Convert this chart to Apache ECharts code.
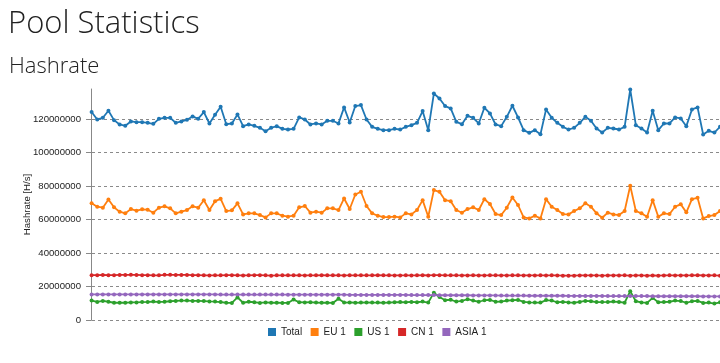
<!DOCTYPE html>
<html><head><meta charset="utf-8">
<script src="https://cdn.jsdelivr.net/npm/echarts@6/dist/echarts.min.js"></script>
<style>html,body{margin:0;padding:0;background:#fff}#c{width:720px;height:363px}</style>
</head><body><div id="c"></div>
<script>
// values in millions of H/s
const seriesNames = ['Total', 'EU 1', 'US 1', 'CN 1', 'ASIA 1'];
const seriesColors = ['#1f77b4', '#ff7f0e', '#2ca02c', '#d62728', '#9467bd'];
const yTicks = [0, 20000000, 40000000, 60000000, 80000000, 100000000, 120000000];
const yMax = 138000000;

const total = [124.3,119.8,120.8,125.0,119.4,116.8,116.0,118.6,118.2,118.2,117.8,117.2,120.2,120.8,120.8,117.8,118.6,119.6,121.6,120.2,124.2,117.4,122.6,127.4,117.0,117.4,122.8,115.8,
116.8,116.0,114.8,112.8,114.8,115.8,114.2,113.8,114.2,121.0,119.8,116.8,117.4,116.8,119.0,119.0,117.4,127.0,118.0,127.8,128.4,119.8,115.4,114.2,113.4,113.4,114.2,113.8,115.4,
116.4,117.8,124.8,113.4,135.3,132.3,127.8,126.4,118.4,117.0,122.0,120.8,117.4,126.8,123.4,116.8,115.8,121.4,128.0,121.0,113.4,111.8,113.4,111.0,125.8,120.8,117.8,115.4,
113.8,114.8,117.8,121.4,119.0,114.4,112.0,114.8,114.4,113.8,115.4,137.7,116.4,114.4,112.0,125.0,113.4,117.4,117.4,121.0,120.4,115.8,125.8,127.0,110.8,113.0,112.0,115.4];

const eu1 = [69.7,67.7,67.1,72.0,67.3,64.7,63.7,66.3,65.3,66.1,65.9,64.1,67.1,67.9,66.7,63.7,64.7,65.7,67.9,67.1,71.5,65.7,71.0,72.4,65.1,65.5,69.7,63.1,
63.7,63.7,62.7,61.3,63.7,63.7,62.3,61.7,62.3,67.3,68.1,64.1,64.7,64.1,66.7,66.7,65.7,72.6,66.3,75.0,76.6,68.1,63.7,62.3,61.5,61.5,61.7,61.3,63.7,
63.1,65.7,71.6,61.7,77.6,76.6,71.6,71.0,65.7,64.1,66.3,67.3,65.7,72.2,69.3,63.3,62.7,67.1,73.2,68.7,61.3,60.7,62.3,60.7,72.2,67.7,65.7,63.3,
63.1,65.1,66.7,69.7,67.7,63.7,61.1,64.1,63.1,62.7,65.1,80.2,65.1,63.7,61.7,71.6,61.7,63.7,63.3,67.7,69.1,64.3,72.2,73.0,60.7,62.1,62.7,65.1];

const us1 = [11.6,10.8,11.4,10.9,10.3,10.3,10.3,10.5,10.5,10.7,10.8,11.0,10.8,10.9,11.2,11.4,11.6,11.6,11.4,11.4,11.3,11.1,11.0,10.7,10.3,10.2,13.5,10.3,
10.9,10.6,10.2,10.5,10.3,10.3,10.2,10.2,12.2,10.6,10.5,10.6,10.4,10.3,10.3,10.2,12.7,10.4,10.5,10.3,10.4,10.5,10.4,10.4,10.3,10.4,10.6,10.7,10.6,
10.8,10.6,11.0,10.4,16.3,13.7,11.8,12.1,11.0,11.4,12.4,11.6,10.9,11.8,12.0,10.9,11.0,11.6,11.8,12.0,10.8,10.5,10.4,10.4,11.9,11.6,10.6,10.8,
10.5,10.3,10.8,11.4,11.2,10.7,10.7,10.8,11.0,10.8,10.3,17.2,11.2,10.5,10.2,13.2,10.6,10.7,10.9,11.6,11.3,10.3,11.2,11.4,10.2,10.4,9.8,10.6];

const cn1 = [26.8,26.8,26.9,26.8,26.8,26.9,26.9,27.0,26.9,26.8,26.8,26.7,26.7,27.0,27.0,26.9,26.9,26.9,26.8,26.8,26.7,26.6,26.7,26.7,26.8,26.8,26.7,26.6,
26.7,26.8,26.8,26.7,26.5,26.7,26.7,26.7,26.7,26.7,26.6,26.7,26.7,26.8,26.7,26.7,26.7,26.6,26.7,26.7,26.7,26.7,26.7,26.8,26.7,26.7,26.6,26.6,26.7,
26.6,26.7,26.8,26.6,26.8,26.8,26.7,26.7,26.7,26.6,26.6,26.7,26.6,26.6,26.7,26.7,26.6,26.6,26.7,26.7,26.6,26.6,26.6,26.7,26.6,26.7,26.6,26.5,
26.5,26.5,26.6,26.6,26.6,26.6,26.5,26.6,26.6,26.6,26.7,26.5,26.6,26.6,26.5,26.6,26.5,26.6,26.7,26.6,26.6,26.6,26.7,26.8,26.6,26.6,26.7,26.5];

const asia1 = [15.3,15.3,15.3,15.3,15.3,15.3,15.3,15.3,15.3,15.3,15.3,15.3,15.3,15.3,15.3,15.3,15.3,15.3,15.3,15.3,15.3,15.3,15.3,15.2,15.2,15.2,15.2,15.2,
15.2,15.2,15.2,15.2,15.2,15.2,15.2,15.1,15.1,15.1,15.1,15.1,15.1,15.1,15.1,15.1,15.1,15.1,15.0,15.0,15.0,15.0,15.0,15.0,15.0,15.0,15.0,15.0,15.0,
14.9,14.9,14.9,14.9,14.9,14.8,14.8,14.8,14.8,14.8,14.8,14.7,14.7,14.7,14.7,14.7,14.6,14.6,14.6,14.6,14.6,14.5,14.5,14.5,14.5,14.5,14.5,14.5,
14.4,14.4,14.4,14.4,14.4,14.4,14.4,14.3,14.3,14.3,14.3,14.3,14.3,14.3,14.3,14.2,14.2,14.2,14.2,14.2,14.2,14.2,14.2,14.2,14.1,14.1,14.1,14.1];

const M = 1e6;
const allData = [total, eu1, us1, cn1, asia1];
const N = total.length;

const chart = echarts.init(document.getElementById('c'), null, {renderer: 'canvas'});
const axisFont = 'Liberation Sans, Arial, sans-serif';
chart.setOption({
  animation: false,
  backgroundColor: '#fff',
  title: [
    {text: 'Pool Statistics', left: 3, top: 4,
     textStyle: {fontFamily: 'Open Sans', fontWeight: 300, fontSize: 31, color: '#222'}},
    {text: 'Hashrate', left: 4, top: 51,
     textStyle: {fontFamily: 'Open Sans', fontWeight: 300, fontSize: 22, color: '#222'}}
  ],
  legend: {
    data: seriesNames,
    left: 263, top: 322,
    icon: 'rect', itemWidth: 8, itemHeight: 8, itemGap: 8.5,
    textStyle: {fontFamily: axisFont, fontSize: 10, color: '#222'}
  },
  grid: {left: 86, right: 0, top: 89, bottom: 43, containLabel: false},
  xAxis: {
    type: 'value', min: -1, max: N - 1,
    axisLine: {show: false}, axisTick: {show: false}, axisLabel: {show: false}, splitLine: {show: false}
  },
  yAxis: {
    type: 'value', min: 0, max: yMax, interval: yTicks[1] - yTicks[0],
    name: 'Hashrate [H/s]', nameLocation: 'middle', nameGap: 54, nameMoveOverlap: false,
    nameTextStyle: {fontFamily: axisFont, fontSize: 9.6, color: '#222'},
    axisLine: {show: true, lineStyle: {color: '#888', width: 1}},
    axisTick: {show: true, length: 4, lineStyle: {color: '#888'}},
    axisLabel: {fontFamily: axisFont, fontSize: 9.6, color: '#222', margin: 5, showMaxLabel: false,
      formatter: v => String(Math.round(v))},
    splitLine: {show: true, showMaxLine: false, lineStyle: {color: '#8a8a8a', type: [3, 3], width: 1}}
  },
  series: allData.map((arr, k) => ({
    name: seriesNames[k], type: 'line',
    data: arr.map((v, i) => [i, v * M]),
    symbol: 'circle', symbolSize: 4, showSymbol: true,
    lineStyle: {width: 1.8, color: seriesColors[k]},
    itemStyle: {color: seriesColors[k]},
    emphasis: {disabled: true}
  })),
  color: seriesColors
});
</script></body></html>
